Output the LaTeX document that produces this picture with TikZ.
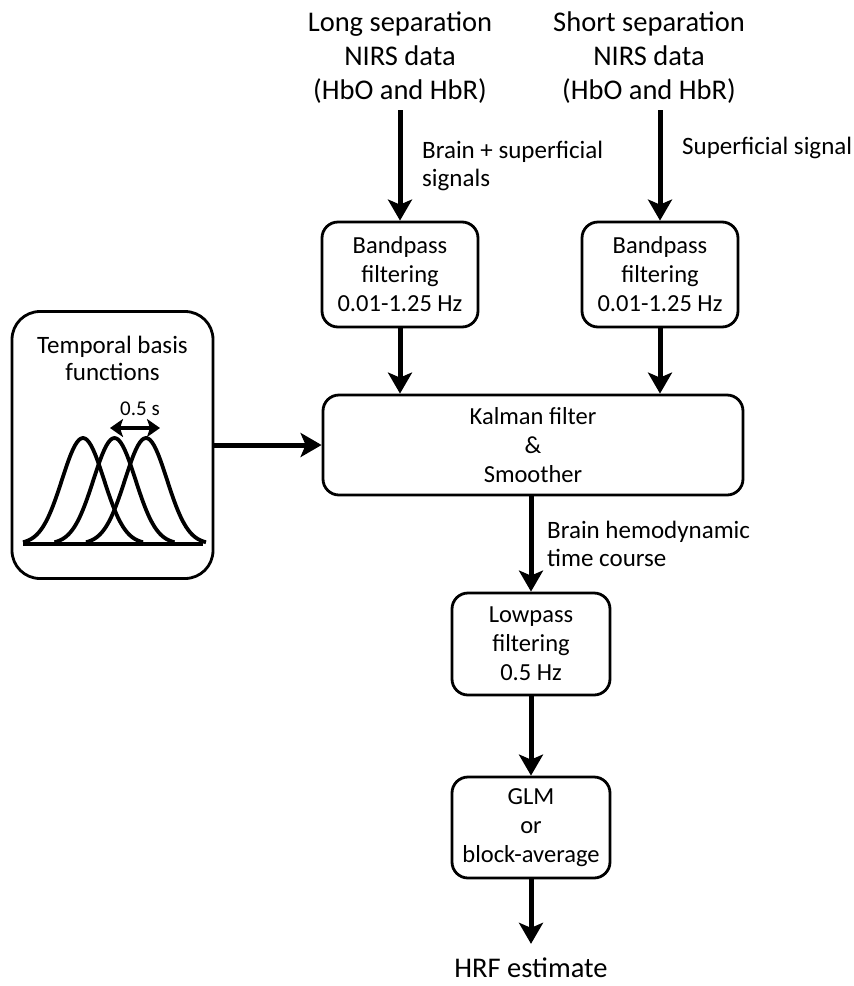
\documentclass[tikz,border=0pt]{standalone}
\usepackage{fontspec}
\setmainfont{Carlito}
\usepackage{tikz}
\usetikzlibrary{arrows.meta,calc}
\tikzset{procbox/.style={
    draw=black,
    line width=2.8pt,
    rounded corners=16pt,
    align=center,
    inner sep=0pt,
    font=\fontsize{24.5}{29}\selectfont}}
\tikzset{flowarrow/.style={
    line width=5pt,
    -{Stealth[length=21pt,width=24pt,inset=5pt]}}}
\tikzset{titletext/.style={
    align=center,
    inner sep=6pt,
    font=\fontsize{28.5}{34}\selectfont}}
\tikzset{sidelabel/.style={
    align=left,
    anchor=west,
    inner sep=0pt,
    font=\fontsize{25}{28}\selectfont}}
\tikzset{basiscurve/.style={
    line width=3.8pt,
    line join=round}}

\begin{document}
\begin{tikzpicture}[x=1pt,y=-1pt]
\useasboundingbox (0,0) rectangle (854,986);
% inputs
\node[titletext] (longsep) at (400,58) {Long separation\\NIRS data\\(HbO and HbR)};
\node[titletext] (shortsep) at (649,58) {Short separation\\NIRS data\\(HbO and HbR)};

\node[procbox,minimum width=156,minimum height=105] (bandlong) at (400,274.5) {Bandpass\\filtering\\0.01-1.25 Hz};
\node[procbox,minimum width=156,minimum height=105] (bandshort) at (660,274.5) {Bandpass\\filtering\\0.01-1.25 Hz};

\draw[flowarrow] (longsep.south -| bandlong.north) -- (bandlong.north);
\draw[flowarrow] (shortsep.south -| bandshort.north) -- (bandshort.north);
\node[sidelabel] (lbllong) at (422,166) {Brain + superficial\\signals};
\node[sidelabel] (lblshort) at (682,148) {Superficial signal};

% kalman
\node[procbox,minimum width=420,minimum height=100] (kalman) at (533,445) {Kalman filter\\\&\\Smoother};
\draw[flowarrow] (bandlong.south) -- (bandlong.south |- kalman.north);
\draw[flowarrow] (bandshort.south) -- (bandshort.south |- kalman.north);

% basis functions
\node[procbox,rounded corners=28pt,minimum width=201,minimum height=267] (basis) at (112.5,445) {};
\node[align=center,inner sep=0pt,font=\fontsize{25}{27}\selectfont] (basistitle) at (112.5,358) {Temporal basis\\functions};
\foreach \pk in {83,114.5,146}
  \draw[basiscurve] plot[domain=-60:60,samples=61,smooth] ({\pk+\x},{544-106*exp(-0.5*(\x/21)^2)});
\draw[basiscurve] (23,544) -- (203,544);
\coordinate (shiftl) at (110,428);
\coordinate (shiftr) at (160,428);
\draw[line width=3.2pt,{Stealth[length=13pt,width=18pt,inset=3pt]}-{Stealth[length=13pt,width=18pt,inset=3pt]}] (shiftl) -- (shiftr);
\node[inner sep=0pt,font=\fontsize{21}{24}\selectfont] (shiftlbl) at (140,409) {0.5 s};
\draw[flowarrow] (basis.east) -- (kalman.west);

% output chain
\node[procbox,minimum width=158,minimum height=102] (lowpass) at (531,644) {Lowpass\\filtering\\0.5 Hz};
\node[procbox,minimum width=158,minimum height=101] (glm) at (531,827.5) {GLM\\or\\block-average};
\node[titletext,inner sep=14pt] (hrf) at (531,968) {HRF estimate};

\draw[flowarrow] (kalman.south -| lowpass.north) -- (lowpass.north);
\node[sidelabel] (lblbrain) at (547,544) {Brain hemodynamic\\time course};
\draw[flowarrow] (lowpass.south) -- (glm.north);
\draw[flowarrow] (glm.south) -- (hrf.north);
\end{tikzpicture}
\end{document}
